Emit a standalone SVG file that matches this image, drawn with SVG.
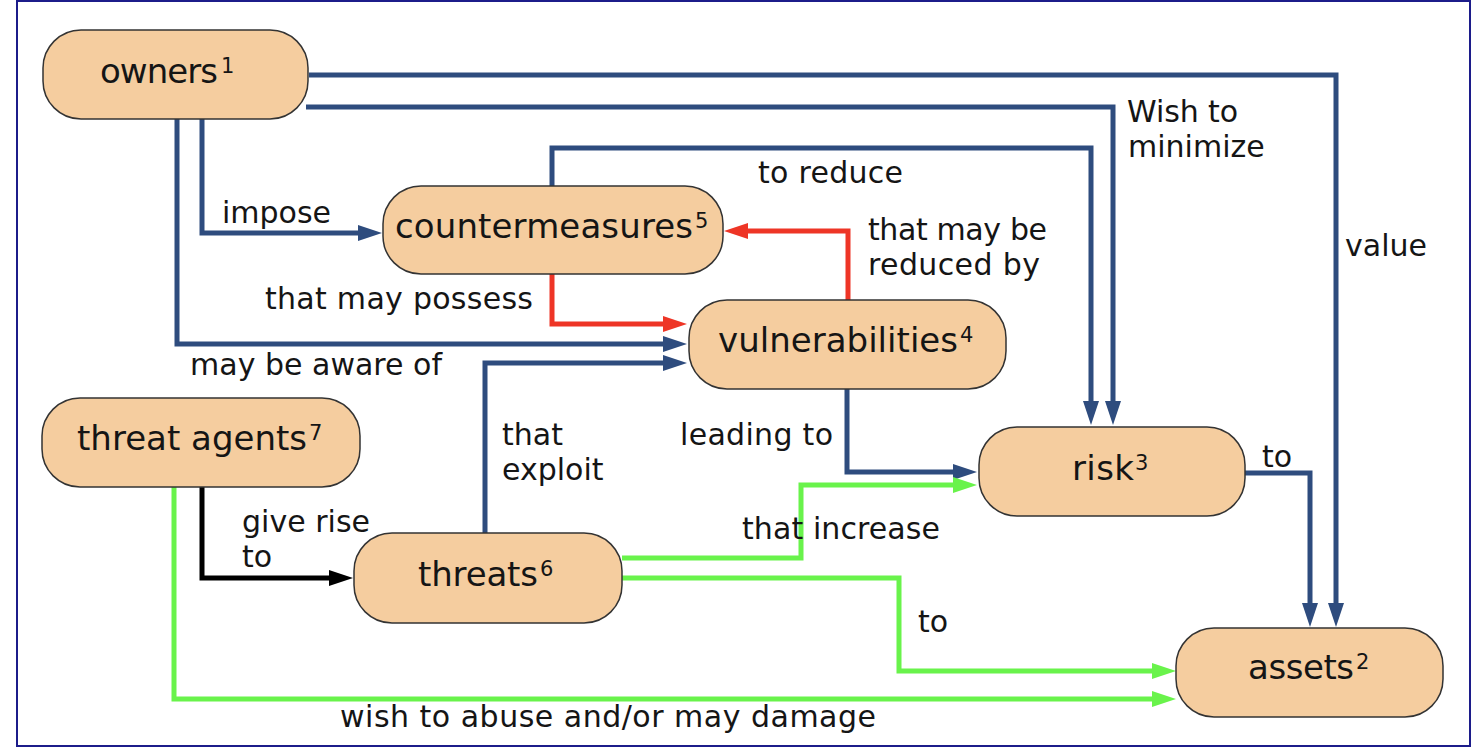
<svg xmlns="http://www.w3.org/2000/svg" width="1482" height="752" viewBox="0 0 1482 752">
<style>
.node rect{fill:#f5cd9f;stroke:#333;stroke-width:1.5}
.nt{font-family:"DejaVu Sans",sans-serif;font-size:34px;fill:#151515}
.sup{font-family:"DejaVu Sans",sans-serif;font-size:21px;fill:#151515}
.lb{font-family:"DejaVu Sans",sans-serif;font-size:30px;fill:#151515}
.c{fill:none;stroke-width:5;stroke-linejoin:miter}
.b{stroke:#2e4c7e;marker-end:url(#ab)}
.r{stroke:#ee3526;marker-end:url(#ar)}
.g{stroke:#69f34b;marker-end:url(#ag)}
.k{stroke:#000;marker-end:url(#ak)}
</style>
<defs>
<marker id="ab" markerUnits="userSpaceOnUse" markerWidth="26" markerHeight="16" refX="14" refY="8" orient="auto"><path d="M0,0 L24,8 L0,16 Z" fill="#2e4c7e"/></marker>
<marker id="ar" markerUnits="userSpaceOnUse" markerWidth="26" markerHeight="16" refX="14" refY="8" orient="auto"><path d="M0,0 L24,8 L0,16 Z" fill="#ee3526"/></marker>
<marker id="ag" markerUnits="userSpaceOnUse" markerWidth="26" markerHeight="16" refX="14" refY="8" orient="auto"><path d="M0,0 L24,8 L0,16 Z" fill="#69f34b"/></marker>
<marker id="ak" markerUnits="userSpaceOnUse" markerWidth="26" markerHeight="16" refX="14" refY="8" orient="auto"><path d="M0,0 L24,8 L0,16 Z" fill="#000"/></marker>
</defs>
<rect x="0" y="0" width="1482" height="752" fill="#fff"/>
<rect x="17" y="1" width="1453" height="745" fill="#fff" stroke="#1c1c8a" stroke-width="2"/>

<g id="connectors">
<path class="c b" d="M309,75 H1336 V617"/>
<path class="c b" d="M306,107 H1113 V415"/>
<path class="c b" d="M552,186 V148 H1091 V415"/>
<path class="c b" d="M202,119 V233 H372"/>
<path class="c b" d="M177,119 V344 H677"/>
<path class="c r" d="M552,274 V324 H677"/>
<path class="c r" d="M848,300 V231 H734"/>
<path class="c b" d="M485,533 V363 H677"/>
<path class="c b" d="M847,389 V472 H967"/>
<path class="c g" d="M622,558 H801 V485 H967"/>
<path class="c g" d="M622,578 H899 V671 H1166"/>
<path class="c g" d="M174,487 V699 H1166"/>
<path class="c k" d="M202,487 V578 H343"/>
<path class="c b" d="M1245,473 H1310 V617"/>
</g>

<g id="labels">
<text class="lb" x="222" y="223">impose</text>
<text class="lb" x="265" y="309" textLength="268">that may possess</text>
<text class="lb" x="190" y="375" textLength="252">may be aware of</text>
<text class="lb" x="758" y="183" textLength="145">to reduce</text>
<text class="lb" x="868" y="240" textLength="179">that may be</text>
<text class="lb" x="868" y="275" textLength="172">reduced by</text>
<text class="lb" x="1127" y="122" textLength="111">Wish to</text>
<text class="lb" x="1128" y="157">minimize</text>
<text class="lb" x="1345" y="256">value</text>
<text class="lb" x="502" y="445">that</text>
<text class="lb" x="502" y="480">exploit</text>
<text class="lb" x="680" y="445" textLength="153">leading to</text>
<text class="lb" x="1262" y="467">to</text>
<text class="lb" x="242" y="532" textLength="128">give rise</text>
<text class="lb" x="242" y="567">to</text>
<text class="lb" x="742" y="539" textLength="198">that increase</text>
<text class="lb" x="918" y="632">to</text>
<text class="lb" x="340" y="727" textLength="536">wish to abuse and/or may damage</text>
</g>

<g id="owners" class="node">
<rect x="43" y="30" width="265" height="89" rx="38"/>
<text class="nt" x="100" y="83" textLength="118">owners</text>
<text class="sup" x="221" y="73">1</text>
</g>
<g id="countermeasures" class="node">
<rect x="383" y="186" width="340" height="88" rx="38"/>
<text class="nt" x="395" y="238" textLength="298">countermeasures</text>
<text class="sup" x="695" y="228">5</text>
</g>
<g id="vulnerabilities" class="node">
<rect x="689" y="300" width="317" height="89" rx="38"/>
<text class="nt" x="718" y="352" textLength="240">vulnerabilities</text>
<text class="sup" x="960" y="342">4</text>
</g>
<g id="threat-agents" class="node">
<rect x="42" y="398" width="318" height="89" rx="38"/>
<text class="nt" x="77" y="450" textLength="230">threat agents</text>
<text class="sup" x="309" y="440">7</text>
</g>
<g id="risk" class="node">
<rect x="979" y="427" width="266" height="89" rx="38"/>
<text class="nt" x="1072" y="480" textLength="62">risk</text>
<text class="sup" x="1135" y="470">3</text>
</g>
<g id="threats" class="node">
<rect x="354" y="533" width="268" height="90" rx="38"/>
<text class="nt" x="418" y="586" textLength="120">threats</text>
<text class="sup" x="540" y="576">6</text>
</g>
<g id="assets" class="node">
<rect x="1176" y="628" width="267" height="89" rx="38"/>
<text class="nt" x="1248" y="679" textLength="106">assets</text>
<text class="sup" x="1356" y="669">2</text>
</g>
</svg>
